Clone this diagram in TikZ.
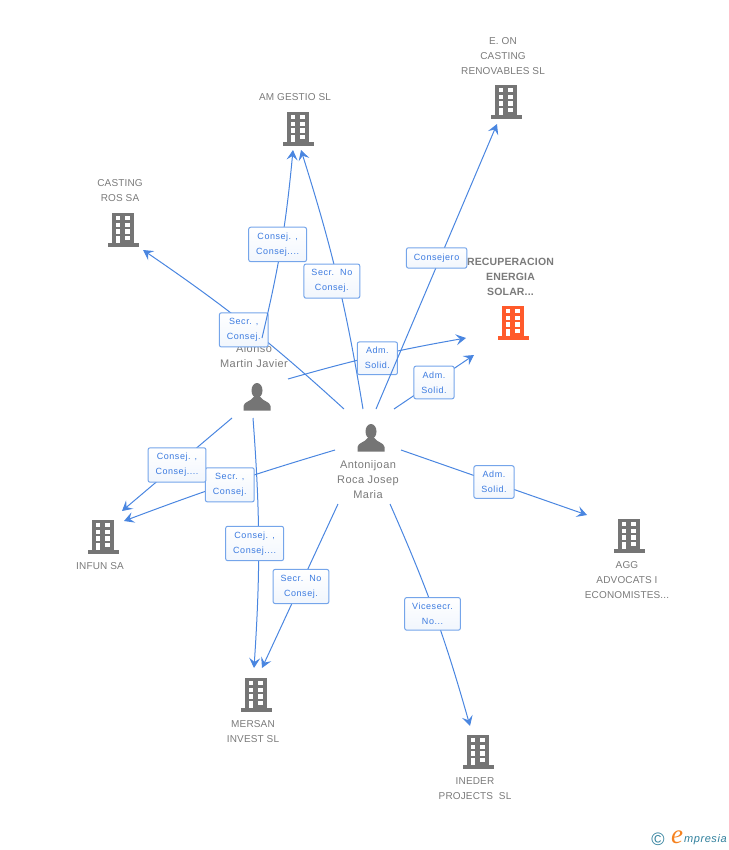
\documentclass[tikz,border=0pt]{standalone}
\usepackage{fontspec}
\setmainfont[LetterSpace=1.5]{Liberation Sans}
\newfontfamily\tagfont[LetterSpace=6]{Liberation Sans}
\newfontfamily\personfont[LetterSpace=4]{Liberation Sans}
\newfontfamily\logofont{Liberation Serif}
\newfontfamily\logotextfont[LetterSpace=5]{Liberation Sans}
\usetikzlibrary{arrows.meta}
\definecolor{linkblue}{HTML}{4A86E0}
\definecolor{tagedge}{HTML}{75A5EA}
\definecolor{tagtext}{HTML}{3C7BE0}
\definecolor{icongray}{HTML}{757575}
\definecolor{namegray}{HTML}{7A7A7A}
\definecolor{hotorange}{HTML}{FF5A2B}
\definecolor{logoteal}{HTML}{2F7F9C}
\definecolor{logoorange}{HTML}{F58220}
\tikzset{
  link/.style={draw=linkblue, line width=1pt, -{Stealth[length=10pt, width=11pt, inset=4pt]}},
  tag/.style={draw=tagedge, line width=1pt, rounded corners=2pt, top color=white, bottom color=tagedge!10,
    text=tagtext, align=center, font=\tagfont\fontsize{9}{15}\selectfont, inner xsep=7.5pt, inner ysep=5.5pt},
  caption/.style={text=namegray, align=center, font=\fontsize{10}{15}\selectfont, inner sep=0pt},
  personname/.style={caption, font=\personfont\fontsize{11}{15}\selectfont},
  pics/building/.style={code={
      \fill[#1] (-11,0) rectangle (11,30);
      \fill[#1] (-15.5,30) rectangle (15.5,34);
      \foreach \row in {3,9.7,16.3} {
        \fill[white] (-7.3,\row) rectangle (-2.7,\row+4.3);
        \fill[white] (2.3,\row) rectangle (6.9,\row+4.3);
      }
      \fill[white] (-7.3,23) rectangle (-2.7,30);
      \fill[white] (2.3,23) rectangle (6.9,27.3);
  }},
  pics/person/.style={code={
      \fill[icongray] (0,7.5) ellipse (5.5 and 7.5);
      \fill[icongray] (-13.5,27.5) -- (-13.5,23) .. controls (-13,18.5) and (-6,18.5) .. (-3.5,14)
        -- (3.5,14) .. controls (6,18.5) and (13,18.5) .. (13.5,23) -- (13.5,27.5) -- cycle;
  }},
}
\begin{document}
\begin{tikzpicture}[x=1pt, y=-1pt]
    \useasboundingbox (0,0) rectangle (728,850);

    \node [caption] (eon) at (503,56) {E. ON\\CASTING\\RENOVABLES SL};
    \node [caption] (amgestio) at (295,97) {AM GESTIO SL};
    \node [caption] (castingros) at (120,190.5) {CASTING\\ROS SA};
    \node [caption, font=\bfseries\fontsize{10.5}{15}\selectfont] (recuperacion) at (510.5,277) {RECUPERACION\\ENERGIA\\SOLAR...};
    \node [caption] (infun) at (100,566) {INFUN SA};
    \node [caption] (agg) at (627,580) {AGG\\ADVOCATS I\\ECONOMISTES...};
    \node [caption] (mersan) at (253,731.5) {MERSAN\\INVEST SL};
    \node [caption] (ineder) at (475,788.5) {INEDER\\PROJECTS\ \ SL};
    \node [personname] (alonso) at (254,356.5) {Alonso\\Martin Javier};
    \node [personname] (antonijoan) at (368,480) {Antonijoan\\Roca Josep\\Maria};

    \pic at (506,85) {building=icongray};
    \pic at (298,112) {building=icongray};
    \pic at (123,213) {building=icongray};
    \pic at (513,306) {building=hotorange};
    \pic at (103,520) {building=icongray};
    \pic at (629,519) {building=icongray};
    \pic at (256,678) {building=icongray};
    \pic at (478,735) {building=icongray};
    \pic at (257,383) {person};
    \pic at (371,424) {person};

    \coordinate (alonsotop) at (262,338);
    \coordinate (alonsoright) at (288,379);
    \coordinate (alonsoleft) at (232,418);
    \coordinate (alonsodown) at (253,418);
    \coordinate (antonnw) at (344,409);
    \coordinate (antonn) at (363,409);
    \coordinate (antonne) at (376,409);
    \coordinate (antonene) at (394,409);
    \coordinate (antonw) at (335,450);
    \coordinate (antone) at (401,450);
    \coordinate (antonsw) at (338,504);
    \coordinate (antonse) at (390,504);
    \coordinate (toeon) at (497,124);
    \coordinate (toamleft) at (293,150);
    \coordinate (toamright) at (301,150);
    \coordinate (tocasting) at (143,250);
    \coordinate (torecupleft) at (466,338);
    \coordinate (torecupdown) at (474,355);
    \coordinate (toinfunup) at (122,511);
    \coordinate (toinfundown) at (124,521);
    \coordinate (toagg) at (587,515);
    \coordinate (tomersanleft) at (254,668);
    \coordinate (tomersanright) at (262,668);
    \coordinate (toineder) at (470,726);

    \draw [link] (antonnw) to [bend right=4] node [tag, xshift=-3pt, yshift=-4.5pt] (tagcasting) {Secr. ,\\Consej.} (tocasting);
    \draw [link] (alonsotop) to [bend right=4] node [tag, pos=.51, xshift=-4pt, yshift=-1.5pt] (tagamleft) {Consej. ,\\Consej....} (toamleft);
    \draw [link] (antonn) to [bend right=4] node [tag, pos=.49, xshift=-6pt, yshift=-.5pt] (tagamright) {Secr.\ \ No\\Consej.} (toamright);
    \draw [link] (alonsoright) to [bend left=3] node [tag, xshift=1pt, yshift=-2.5pt] (tagrecupleft) {Adm.\\Solid.} (torecupleft);
    \draw [link] (antonne) -- node [tag, pos=.53, xshift=-3.5pt, inner ysep=6pt] (tageon) {Consejero} (toeon);
    \draw [link] (antonene) -- node [tag, yshift=-.5pt] (tagrecupdown) {Adm.\\Solid.} (torecupdown);
    \draw [link] (antonw) to [bend right=2] node [tag, xshift=1pt, yshift=-1.5pt] (taginfundown) {Secr. ,\\Consej.} (toinfundown);
    \draw [link] (alonsoleft) -- node [tag, yshift=-.5pt] (taginfunup) {Consej. ,\\Consej....} (toinfunup);
    \draw [link] (alonsodown) to [bend left=4] node [tag, xshift=-4pt, yshift=-.5pt] (tagmersanleft) {Consej. ,\\Consej....} (tomersanleft);
    \draw [link] (antonsw) -- node [tag, xshift=1pt, yshift=-.5pt] (tagmersanright) {Secr.\ \ No\\Consej.} (tomersanright);
    \draw [link] (antonse) to [bend left=4] node [tag, xshift=-2pt, yshift=-.5pt] (tagineder) {Vicesecr.\\No...} (toineder);
    \draw [link] (antone) -- node [tag, yshift=.5pt] (tagagg) {Adm.\\Solid.} (toagg);

    \node [text=logoteal, inner sep=0pt, font=\fontsize{18}{18}\selectfont] (logomark) at (658,839) {©};
    \node [text=logoorange, inner sep=0pt, font=\logofont\itshape\fontsize{27}{27}\selectfont] (logoe) at (677,837) {e};
    \node [text=logoteal, inner sep=0pt, anchor=west, font=\logotextfont\itshape\fontsize{11}{12}\selectfont] (logotext) at (684,840) {mpresia};
\end{tikzpicture}
\end{document}
